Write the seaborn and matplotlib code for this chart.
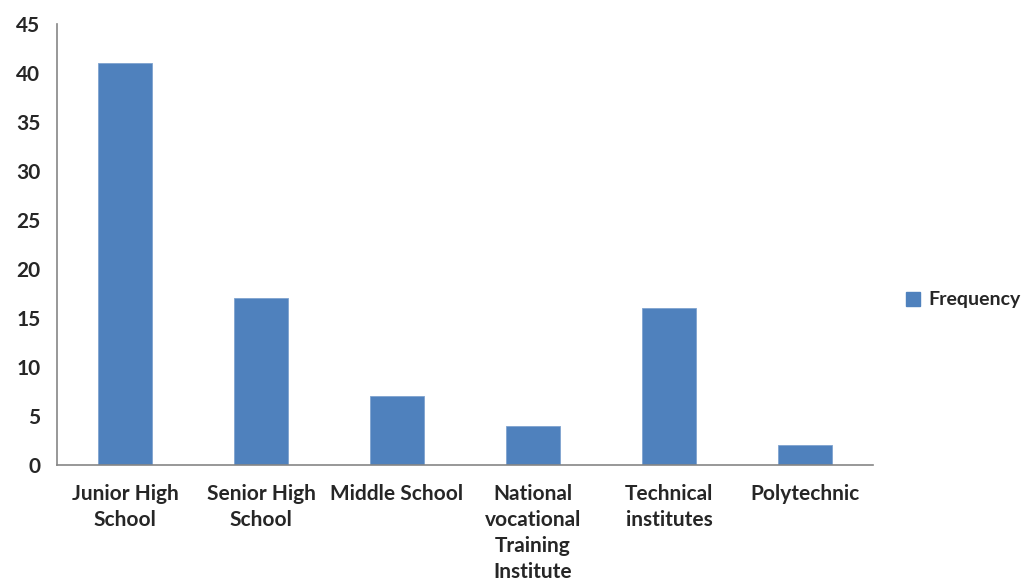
import matplotlib
matplotlib.use("Agg")
import matplotlib.pyplot as plt
import seaborn as sns
import pandas as pd
import numpy as np
from matplotlib.patches import Patch

categories = ["Junior High\nSchool", "Senior High\nSchool", "Middle School",
              "National\nvocational\nTraining\nInstitute", "Technical\ninstitutes", "Polytechnic"]
frequency = [41, 17, 7, 4, 16, 2]
yticks = [0, 5, 10, 15, 20, 25, 30, 35, 40, 45]

sns.set_style("white")
plt.rcParams['font.family'] = ['Lato', 'DejaVu Sans']
plt.rcParams['font.weight'] = 'bold'

df = pd.DataFrame({"category": categories, "Frequency": frequency})

fig = plt.figure(figsize=(10.24, 5.83), dpi=100)
ax = fig.add_axes([57/1024, 118/583, (873-57)/1024, (465-24)/583])
color = "#4F81BD"
sns.barplot(data=df, x="category", y="Frequency", color=color, width=0.4, ax=ax,
            saturation=1, edgecolor="#7FA3CF", linewidth=0.6)

ax.set_xlim(-0.5, len(categories) - 0.5)
ax.set_ylim(0, 45)
ax.set_yticks(yticks)
ax.set_yticklabels([str(v) for v in yticks], fontsize=15, fontweight='bold')
ax.set_xlabel("")
ax.set_ylabel("")
ax.set_xticks(range(len(categories)))
ax.set_xticklabels(categories, fontsize=15, fontweight='bold', linespacing=1.36)
ax.set_xticks(np.arange(-0.5, len(categories), 1.0), minor=True)
ax.tick_params(axis='x', which='major', length=0, pad=14)
ax.tick_params(axis='x', which='minor', length=6, width=1.2, color="#868686", direction='out')
ax.tick_params(axis='y', which='major', length=6, width=1.2, color="#868686", direction='out', pad=6)

for s in ["top", "right"]:
    ax.spines[s].set_visible(False)
for s in ["left", "bottom"]:
    ax.spines[s].set_color("#868686")
    ax.spines[s].set_linewidth(1.2)

handles = [Patch(facecolor=color, edgecolor=color, label="Frequency")]
fig.legend(handles=handles, loc="center left", bbox_to_anchor=(888/1024, 283/583),
           frameon=False, handlelength=0.75, handleheight=0.75,
           handletextpad=0.45, prop={'weight': 'bold', 'size': 14})

fig.savefig("out.png", dpi=100)
